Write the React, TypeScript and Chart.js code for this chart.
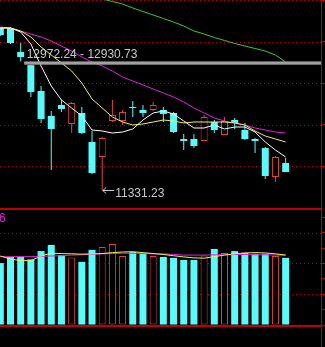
import React, { useEffect, useRef } from "react";
import { Chart, registerables } from "chart.js";

Chart.register(...registerables);

// ---- price candles (OHLC) ----
const opens = [13398, 13398, 13092, 12925, 12596, 12277, 12417, 12175, 12315, 11946, 11755, 12213, 12213, 12392, 12354, 12354, 12354, 12315, 11984, 11984, 11959, 12201, 12035, 12226, 12099, 11984, 11869, 11500, 11678];
const highs = [13411, 13411, 13207, 12930.73, 12659, 12341, 12481, 12455, 12392, 12086, 12009, 12481, 12354, 12468, 12417, 12455, 12392, 12328, 12048, 12048, 12290, 12226, 12264, 12252, 12188, 11997, 11882, 11768, 11742];
const lows = [13296, 13194, 12972.24, 12519, 12188, 11589, 12328, 12061, 12048, 11538, 11331.23, 12201, 12162, 12264, 12264, 12341, 12201, 12061, 11844, 11869, 11959, 12061, 12035, 12111, 11971, 11806, 11474, 11436, 11564];
const closes = [13309, 13207, 13029, 12583, 12239, 12111, 12366, 12443, 12061, 11551, 11997, 12290, 12328, 12379, 12315, 12417, 12303, 12073, 11959, 11895, 12264, 12099, 12213, 12188, 11984, 11959, 11513, 11755, 11564];

// ---- price moving averages ----
const ma5 = [13398.1, 13398.1, 13347.2, 13194.3, 12914.0, 12659.2, 12480.9, 12379.0, 12277.1, 12098.7, 12086.0, 12060.5, 12073.3, 12111.5, 12226.1, 12315.3, 12340.8, 12302.6, 12213.4, 12124.2, 12124.2, 12162.4, 12111.5, 12136.9, 12136.9, 12073.3, 11945.9, 11843.9, 11754.8];
const ma10 = [13398.1, 13398.1, 13359.9, 13283.5, 13156.1, 13054.2, 12952.2, 12850.3, 12697.5, 12493.6, 12379.0, 12264.3, 12200.6, 12162.4, 12175.2, 12200.6, 12226.1, 12213.4, 12187.9, 12200.6, 12200.6, 12200.6, 12200.6, 12187.9, 12162.4, 12086.0, 12022.3, 11984.1, 11945.9];
const ma20 = [13410.9, 13398.1, 13359.9, 13321.7, 13283.5, 13232.5, 13168.8, 13105.1, 13028.7, 12965.0, 12914.0, 12850.3, 12773.9, 12722.9, 12672.0, 12621.0, 12570.1, 12519.1, 12455.4, 12379.0, 12315.3, 12251.6, 12213.4, 12187.9, 12162.4, 12124.2, 12098.7, 12073.3, 12060.5];
const ma60 = [null, null, null, null, null, null, null, null, null, null, 13767.5, 13735.7, 13703.8, 13652.9, 13608.3, 13563.7, 13519.1, 13474.5, 13423.6, 13359.9, 13321.7, 13277.1, 13238.9, 13200.7, 13168.8, 13136.9, 13105.1, 13054.2, 12965.0];

// ---- volume ----
const volumes = [201, 221, 222, 213, 240, 260, 227, 219, 205, 244, 253, 263, 224, 237, 231, 224, 221, 218, 211, 211, 226, 247, 234, 240, 234, 231, 231, 224, 218];
const volMaShort = [224, 214, 209, 209, 224, 233, 232, 231, 230, 231, 232, 235, 237, 238, 235, 232, 229, 225, 221, 218, 217, 222, 227, 231, 234, 235, 234, 231, 227];
const volMaLong = [222, 222, 222, 222, 223, 224, 225, 227, 228, 230, 231, 232, 233, 233, 232, 231, 231, 229, 227, 227, 227, 228, 228, 229, 229, 228, 228, 227, 227];

// ---- axes / annotations ----
const X_MIN = -0.03;
const X_MAX = 31.47;
const PRICE_MAX = 13754.8;
const PRICE_MIN = 11105.1;
const PRICE_STEP = 500;
const VOL_MAX = 379.9;
const VOL_STEP = 50;
const VOL_GRID_STEP = 100;
const gapAfterIndex = 2;
const volumeHeaderText = "6";

const CYAN = "#54fcfc";
const RED = "#e84040";
const AXIS = "#c00000";
const GRID = "#b00000";
const LABEL = "#c8c8c8";
const FONT = '12px "Liberation Sans", Arial, sans-serif';

function dottedGrid(filter: (v: number) => boolean) {
  return {
    id: "dottedGrid",
    beforeDatasetsDraw(chart: any) {
      const { ctx, chartArea } = chart;
      const ys = chart.scales.y;
      ctx.save();
      ctx.strokeStyle = GRID;
      ctx.lineWidth = 1;
      ctx.setLineDash([1, 3]);
      for (const t of ys.ticks) {
        if (!filter(t.value)) continue;
        const y = Math.round(ys.getPixelForValue(t.value)) + 0.5;
        ctx.beginPath();
        ctx.moveTo(chartArea.left, y);
        ctx.lineTo(chartArea.right, y);
        ctx.stroke();
      }
      ctx.restore();
    },
  };
}

export default function App() {
  const priceRef = useRef<HTMLCanvasElement>(null);
  const volRef = useRef<HTMLCanvasElement>(null);

  useEffect(() => {
    const idx = opens.map((_, i) => i);
    const rising = idx.map((i) => closes[i] >= opens[i]);
    const pts = (arr: (number | null)[]) => arr.map((v, i) => ({ x: i, y: v }));
    const xScale: any = {
      type: "linear",
      min: X_MIN,
      max: X_MAX,
      display: false,
      offset: false,
      grid: { offset: false },
    };
    const line = (data: (number | null)[], color: string, order: number) => ({
      type: "line",
      data: pts(data),
      borderColor: color,
      borderWidth: 1,
      pointRadius: 0,
      fill: false,
      tension: 0,
      order,
    });

    const lowIndex = lows.indexOf(Math.min(...lows));
    const gapTop = lows[gapAfterIndex];
    const gapBottom = highs[gapAfterIndex + 1];

    const priceAnnotations = {
      id: "priceAnnotations",
      afterDatasetsDraw(chart: any) {
        const { ctx, chartArea } = chart;
        const xs = chart.scales.x;
        const ys = chart.scales.y;
        ctx.save();
        const gx = xs.getPixelForValue(gapAfterIndex) + 3.5;
        const y1 = ys.getPixelForValue(gapTop);
        const y2 = ys.getPixelForValue(gapBottom);
        ctx.fillStyle = "#a0a0a0";
        ctx.fillRect(gx, y1, chartArea.right - gx, Math.max(2, y2 - y1));
        ctx.font = FONT;
        ctx.fillStyle = LABEL;
        ctx.textBaseline = "alphabetic";
        ctx.fillText(`${gapTop.toFixed(2)} - ${gapBottom.toFixed(2)}`, gx + 2.5, y1 - 3);
        const lx = xs.getPixelForValue(lowIndex);
        const ly = Math.round(ys.getPixelForValue(lows[lowIndex])) + 0.5;
        ctx.strokeStyle = LABEL;
        ctx.lineWidth = 1;
        ctx.beginPath();
        ctx.moveTo(lx + 0.5, ly);
        ctx.lineTo(lx + 12, ly);
        ctx.moveTo(lx + 4, ly - 3);
        ctx.lineTo(lx + 0.5, ly);
        ctx.lineTo(lx + 4, ly + 3);
        ctx.stroke();
        ctx.fillText(lows[lowIndex].toFixed(2), lx + 13, ly + 6.5);
        ctx.restore();
      },
    };

    const yAxisBase = (min: number, max: number, step: number) => ({
      type: "linear",
      position: "right",
      min,
      max,
      ticks: { display: false, stepSize: step, includeBounds: false },
      grid: { drawOnChartArea: false, drawTicks: true, tickLength: 4, tickColor: AXIS, tickWidth: 1, color: AXIS },
      border: { display: true, color: AXIS, width: 1 },
    });

    const priceChart = new Chart(priceRef.current as HTMLCanvasElement, {
      type: "bar",
      data: {
        datasets: [
          line(ma5, "#ffffff", 0),
          line(ma10, "#f0f050", 1),
          line(ma20, "#e020e0", 2),
          line(ma60, "#3cc83c", 3),
          {
            type: "bar",
            data: idx.map((i) => ({ x: i, y: [opens[i], closes[i]] })),
            backgroundColor: rising.map((r) => (r ? "#000000" : CYAN)),
            borderColor: rising.map((r) => (r ? RED : CYAN)),
            borderWidth: rising.map((r) => (r ? 1 : 0)),
            borderSkipped: false,
            barThickness: 7,
            grouped: false,
            inflateAmount: 0,
            order: 5,
          },
          {
            type: "bar",
            data: idx.map((i) => ({ x: i, y: [lows[i], highs[i]] })),
            backgroundColor: rising.map((r) => (r ? RED : CYAN)),
            borderWidth: 0,
            barThickness: 1,
            grouped: false,
            inflateAmount: 0,
            order: 6,
          },
        ] as any,
      },
      options: {
        animation: false,
        responsive: false,
        maintainAspectRatio: false,
        devicePixelRatio: 1,
        events: [],
        layout: { padding: 0 },
        plugins: { legend: { display: false }, tooltip: { enabled: false } },
        scales: {
          x: xScale,
          y: yAxisBase(PRICE_MIN, PRICE_MAX, PRICE_STEP),
        },
      } as any,
      plugins: [dottedGrid(() => true), priceAnnotations],
    });

    const volDecor = {
      id: "volDecor",
      afterDraw(chart: any) {
        const { ctx, chartArea, height } = chart;
        ctx.save();
        ctx.fillStyle = AXIS;
        ctx.fillRect(0, chartArea.top, chartArea.right, 2);
        ctx.fillRect(0, chartArea.bottom, chartArea.right, 2);
        ctx.fillRect(Math.round(chartArea.right), chartArea.bottom, 1, height - chartArea.bottom);
        ctx.font = FONT;
        ctx.fillStyle = "#e020e0";
        ctx.textBaseline = "alphabetic";
        ctx.fillText(volumeHeaderText, -1, chartArea.top + 13.7);
        ctx.restore();
      },
    };

    const volChart = new Chart(volRef.current as HTMLCanvasElement, {
      type: "bar",
      data: {
        datasets: [
          line(volMaShort, "#f0f050", 0),
          line(volMaLong, "#e020e0", 1),
          {
            type: "bar",
            data: idx.map((i) => ({ x: i, y: volumes[i] })),
            backgroundColor: rising.map((r) => (r ? "#000000" : CYAN)),
            borderColor: rising.map((r) => (r ? RED : CYAN)),
            borderWidth: rising.map((r) => (r ? 1 : 0)),
            borderSkipped: false,
            barThickness: 7,
            grouped: false,
            inflateAmount: 0,
            order: 5,
          },
        ] as any,
      },
      options: {
        animation: false,
        responsive: false,
        maintainAspectRatio: false,
        devicePixelRatio: 1,
        events: [],
        layout: { padding: { top: 0, bottom: 22, left: 0, right: 0 } },
        plugins: { legend: { display: false }, tooltip: { enabled: false } },
        scales: {
          x: xScale,
          y: yAxisBase(0, VOL_MAX, VOL_STEP),
        },
      } as any,
      plugins: [dottedGrid((v) => v > 0 && v % VOL_GRID_STEP === 0), volDecor],
    });

    return () => {
      priceChart.destroy();
      volChart.destroy();
    };
  }, []);

  return (
    <div
      style={{
        position: "fixed",
        left: 0,
        top: 0,
        width: 325,
        height: 347,
        background: "#000",
        overflow: "hidden",
      }}
    >
      <canvas ref={priceRef} width={325} height={208} style={{ display: "block", width: 325, height: 208 }} />
      <canvas ref={volRef} width={325} height={139} style={{ display: "block", width: 325, height: 139 }} />
    </div>
  );
}
